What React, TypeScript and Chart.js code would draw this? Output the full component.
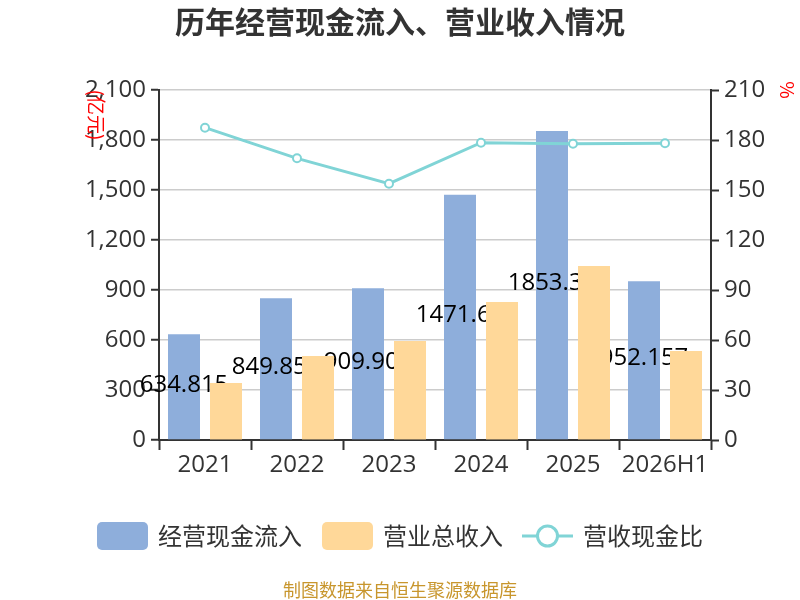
import React, { useEffect, useRef } from "react";
import { Chart, registerables } from "chart.js";

Chart.register(...registerables);

const years = ["2021", "2022", "2023", "2024", "2025", "2026H1"];
const cashInflow = [634.815, 849.853, 909.902, 1471.63, 1853.34, 952.157];
const revenue = [342, 504, 594, 828, 1044, 534];
const cashRatio = [187.4, 169.0, 153.8, 178.4, 177.8, 178.0];
const leftTicks = { min: 0, max: 2100, step: 300 };
const rightTicks = { min: 0, max: 210, step: 30 };

const FONT = "'Open Sans', 'Noto Sans CJK SC', sans-serif";
const CJK = "'Noto Sans CJK SC', sans-serif";
const BLUE = "#8eaedb";
const ORANGE = "#ffd899";
const TEAL = "#80d4d6";

// value labels on the blue bars; the orange bars are painted again over them
const barLabels = {
  id: "barLabels",
  afterDatasetDraw(chart: any, args: any) {
    if (args.index !== 0) return;
    const ctx = chart.ctx;
    ctx.save();
    ctx.font = `24px ${FONT}`;
    ctx.fillStyle = "#000";
    ctx.textAlign = "center";
    ctx.textBaseline = "middle";
    args.meta.data.forEach((bar: any, i: number) => {
      const p = bar.getProps(["x", "y", "base"], true);
      ctx.fillText(String(cashInflow[i]), p.x, (p.y + p.base) / 2 - 2);
    });
    ctx.restore();
    const orange = chart.getDatasetMeta(1);
    orange.data.forEach((el: any) => el.draw(ctx));
  },
};

const decorations = {
  id: "decorations",
  afterDraw(chart: any) {
    const ctx = chart.ctx;
    ctx.save();
    // title
    ctx.font = `bold 30px ${CJK}`;
    ctx.fillStyle = "#333";
    ctx.textAlign = "center";
    ctx.textBaseline = "middle";
    ctx.fillText("历年经营现金流入、营业收入情况", 400, 22);

    // unit labels
    ctx.fillStyle = "#ff0000";
    ctx.font = `19px ${CJK}`;
    ctx.save();
    ctx.translate(96, 115);
    ctx.rotate(Math.PI / 2);
    ctx.fillText("(亿元)", 0, 0);
    ctx.restore();
    ctx.save();
    ctx.translate(787, 90);
    ctx.rotate(Math.PI / 2);
    ctx.fillText("%", 0, 0);
    ctx.restore();

    // legend
    const ly = 536;
    ctx.font = `24px ${CJK}`;
    ctx.textAlign = "left";
    const items = [
      { x: 97, label: chart.data.datasets[0].label, kind: "box", color: BLUE },
      { x: 322, label: chart.data.datasets[1].label, kind: "box", color: ORANGE },
      { x: 522, label: chart.data.datasets[2].label, kind: "line", color: TEAL },
    ];
    items.forEach((it) => {
      if (it.kind === "box") {
        ctx.fillStyle = it.color;
        ctx.beginPath();
        ctx.roundRect(it.x, ly - 14, 51, 28, 5);
        ctx.fill();
      } else {
        ctx.strokeStyle = it.color;
        ctx.lineWidth = 3;
        ctx.beginPath();
        ctx.moveTo(it.x, ly);
        ctx.lineTo(it.x + 51, ly);
        ctx.stroke();
        ctx.fillStyle = "#fff";
        ctx.beginPath();
        ctx.arc(it.x + 25.5, ly, 10, 0, Math.PI * 2);
        ctx.fill();
        ctx.stroke();
      }
      ctx.fillStyle = "#333";
      ctx.fillText(it.label, it.x + 61, ly);
    });

    // source note
    ctx.font = `18px ${CJK}`;
    ctx.fillStyle = "#c8962d";
    ctx.textAlign = "center";
    ctx.fillText("制图数据来自恒生聚源数据库", 400, 590);
    ctx.restore();
  },
};

const App = () => {
  const canvasRef = useRef<HTMLCanvasElement>(null);

  useEffect(() => {
    if (!canvasRef.current) return;

    const chart = new Chart(canvasRef.current, {
      type: "bar",
      data: {
        labels: years,
        datasets: [
          {
            type: "bar",
            label: "经营现金流入",
            data: cashInflow,
            backgroundColor: BLUE,
            yAxisID: "y",
            order: 1,
            categoryPercentage: 0.913,
            barPercentage: 0.762,
          },
          {
            type: "bar",
            label: "营业总收入",
            data: revenue,
            backgroundColor: ORANGE,
            yAxisID: "y",
            order: 2,
            categoryPercentage: 0.913,
            barPercentage: 0.762,
          },
          {
            type: "line",
            label: "营收现金比",
            data: cashRatio,
            borderColor: TEAL,
            borderWidth: 3,
            pointRadius: 4,
            pointBorderWidth: 2,
            pointBackgroundColor: "#fff",
            pointBorderColor: TEAL,
            yAxisID: "y1",
            order: 0,
          } as any,
        ],
      },
      options: {
        animation: false,
        responsive: true,
        maintainAspectRatio: false,
        layout: { padding: { top: 90, bottom: 110, left: 0, right: 0 } },
        plugins: {
          legend: { display: false },
          title: { display: false },
          tooltip: { enabled: false },
        },
        scales: {
          x: {
            offset: true,
            grid: {
              offset: true,
              drawOnChartArea: false,
              tickLength: 10,
              tickColor: "#333",
              tickWidth: 2,
            },
            border: { color: "#333", width: 2 },
            ticks: {
              font: { size: 24, family: FONT },
              color: "#333",
              padding: 1,
              maxRotation: 0,
              minRotation: 0,
              autoSkip: false,
            },
            afterFit: (s: any) => {
              s.height = 50;
            },
          },
          y: {
            position: "left",
            min: leftTicks.min,
            max: leftTicks.max,
            ticks: {
              stepSize: leftTicks.step,
              font: { size: 24, family: FONT },
              color: "#333",
              padding: 5,
              callback: (v: any) => Number(v).toLocaleString("en-US"),
            },
            grid: { color: "#cccccc", lineWidth: 1.5, tickColor: "#333", tickLength: 8, tickWidth: 2 },
            border: { color: "#333", width: 2 },
            afterFit: (s: any) => {
              s.width = 159;
            },
          },
          y1: {
            position: "right",
            min: rightTicks.min,
            max: rightTicks.max,
            ticks: {
              stepSize: rightTicks.step,
              font: { size: 24, family: FONT },
              color: "#333",
              padding: 5,
            },
            grid: { drawOnChartArea: false, tickColor: "#333", tickLength: 8, tickWidth: 2 },
            border: { color: "#333", width: 2 },
            afterFit: (s: any) => {
              s.width = 89;
            },
          },
        },
      },
      plugins: [barLabels, decorations],
    });

    return () => {
      chart.destroy();
    };
  }, []);

  return (
    <div style={{ position: "fixed", left: 0, top: 0, width: "800px", height: "600px", background: "#fff" }}>
      <canvas ref={canvasRef}></canvas>
    </div>
  );
};

export default App;
